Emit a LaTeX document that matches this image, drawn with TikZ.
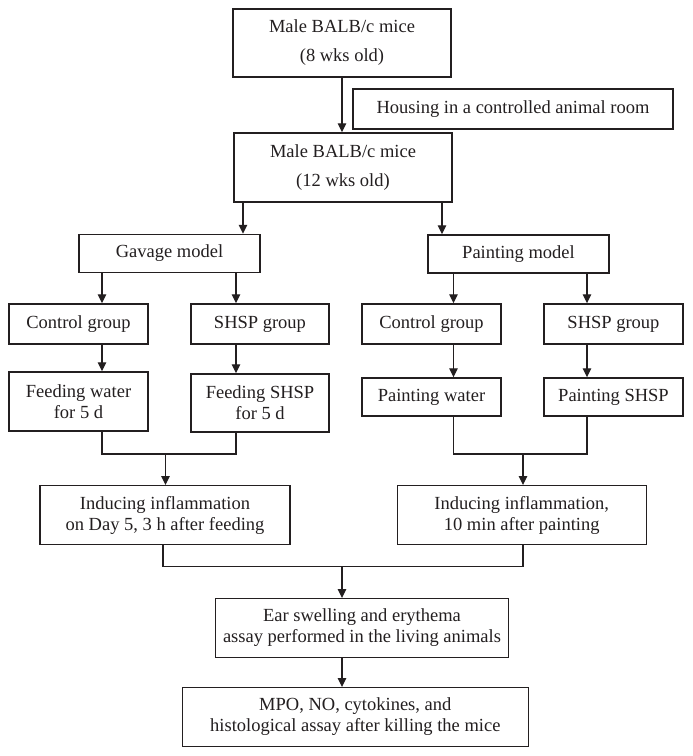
\documentclass[tikz,border=0pt]{standalone}
\usepackage{fontspec}
\setmainfont{Liberation Serif}
\usetikzlibrary{arrows.meta}
\definecolor{ink}{RGB}{35,31,32}
\begin{document}
\begin{tikzpicture}[x=1pt,y=-1pt,
  box/.style={draw=ink, line width=1.4pt, inner sep=0pt, align=center, text=ink,
    font=\fontsize{18.5}{21}\selectfont},
  tallbox/.style={box, font=\fontsize{18.5}{29}\selectfont},
  ln/.style={draw=ink, line width=1.3pt},
  arr/.style={ln, -{Triangle[length=9pt,width=8.5pt]}}]
\useasboundingbox (0,0) rectangle (693,756);
\fill[white] (0,0) rectangle (693,756);
% boxes
\node[tallbox, minimum width=218pt, minimum height=68pt] (b1) at (342,43) {Male BALB/c mice\\(8 wks old)};
\node[box, minimum width=320pt, minimum height=40pt] (house) at (513,109) {Housing in a controlled animal room};
\node[tallbox, minimum width=218pt, minimum height=69pt] (b2) at (343,167.5) {Male BALB/c mice\\(12 wks old)};
\node[box, minimum width=181pt, minimum height=38pt] (gav) at (169.5,253.5) {Gavage model};
\node[box, minimum width=181pt, minimum height=38pt] (pnt) at (518.5,254) {Painting model};
\node[box, minimum width=139pt, minimum height=40pt] (cgL) at (78.5,324) {Control group};
\node[box, minimum width=138pt, minimum height=40pt] (sgL) at (260,324) {SHSP group};
\node[box, minimum width=139pt, minimum height=40pt] (cgR) at (431.5,324) {Control group};
\node[box, minimum width=139pt, minimum height=40pt] (sgR) at (613.5,324) {SHSP group};
\node[box, minimum width=139pt, minimum height=59pt] (fwL) at (78.5,401.5) {Feeding water\\for 5 d};
\node[box, minimum width=138pt, minimum height=58pt] (fsL) at (260,403) {Feeding SHSP\\for 5 d};
\node[box, minimum width=139pt, minimum height=38pt] (pwR) at (431.5,397) {Painting water};
\node[box, minimum width=139pt, minimum height=38pt] (psR) at (613.5,397) {Painting SHSP};
\node[box, minimum width=250pt, minimum height=58.5pt] (infL) at (165,515) {Inducing inflammation\\on Day 5, 3 h after feeding};
\node[box, minimum width=249pt, minimum height=58.5pt] (infR) at (521.7,515) {Inducing inflammation,\\10 min after painting};
\node[box, minimum width=292.5pt, minimum height=58.5pt] (ear) at (362,628) {Ear swelling and erythema\\assay performed in the living animals};
\node[box, minimum width=346pt, minimum height=58.5pt] (mpo) at (355.3,717) {MPO, NO, cytokines, and\\histological assay after killing the mice};
% connector columns and rows
\coordinate (xA) at (342,0);
\coordinate (xB) at (243,0);
\coordinate (xC) at (442,0);
\coordinate (xD) at (102,0);
\coordinate (xE) at (236,0);
\coordinate (xF) at (453.5,0);
\coordinate (xG) at (587,0);
\coordinate (xH) at (165.5,0);
\coordinate (xI) at (523,0);
\coordinate (xJ) at (163,0);
\coordinate (yL) at (0,454);
\coordinate (yM) at (0,566.7);
% connectors
\draw[arr] (b1.south -| xA) -- (b2.north -| xA);
\draw[arr] (b2.south -| xB) -- (gav.north -| xB);
\draw[arr] (b2.south -| xC) -- (pnt.north -| xC);
\draw[arr] (gav.south -| xD) -- (cgL.north -| xD);
\draw[arr] (gav.south -| xE) -- (sgL.north -| xE);
\draw[arr] (pnt.south -| xF) -- (cgR.north -| xF);
\draw[arr] (pnt.south -| xG) -- (sgR.north -| xG);
\draw[arr] (cgL.south -| xD) -- (fwL.north -| xD);
\draw[arr] (sgL.south -| xE) -- (fsL.north -| xE);
\draw[arr] (cgR.south -| xF) -- (pwR.north -| xF);
\draw[arr] (sgR.south -| xG) -- (psR.north -| xG);
\draw[ln] (fwL.south -| xD) -- (xD |- yL) -- (xE |- yL) -- (fsL.south -| xE);
\draw[arr] (xH |- yL) -- (infL.north -| xH);
\draw[ln] (pwR.south -| xF) -- (xF |- yL) -- (xG |- yL) -- (psR.south -| xG);
\draw[arr] (xI |- yL) -- (infR.north -| xI);
\draw[ln] (infL.south -| xJ) -- (xJ |- yM) -- (xI |- yM) -- (infR.south -| xI);
\draw[arr] (xA |- yM) -- (ear.north -| xA);
\draw[arr] (ear.south -| xA) -- (mpo.north -| xA);
\end{tikzpicture}
\end{document}
